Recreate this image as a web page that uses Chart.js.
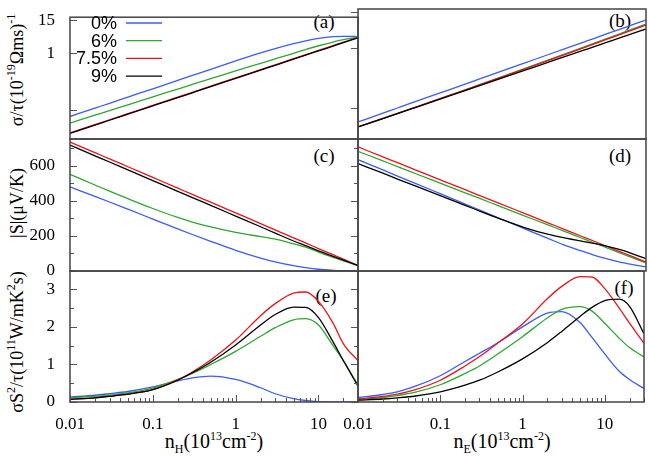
<!DOCTYPE html>
<html>
<head>
<meta charset="utf-8">
<script src="https://cdn.jsdelivr.net/npm/chart.js@4.4.1/dist/chart.umd.min.js"></script>
<style>
  body { margin:0; background:#fff; }
  #wrap { position:relative; width:648px; height:457px; overflow:hidden; background:#fff; }
  #wrap canvas { position:absolute; left:0; top:0; }
  .txt { position:absolute; font-family:"Liberation Serif","DejaVu Serif","DejaVu Sans",serif; color:#000; white-space:nowrap; line-height:1; transform:translate(-50%,-50%); }
  .ttl { font-size:18px; }
  .xt { font-size:20px; }
  .rot { transform:translate(-50%,-50%) rotate(-90deg); }
  .pl { font-size:19px; }
  sup, sub { font-size:12px; position:relative; vertical-align:0; line-height:0; }
  sup { top:-8px; }
  sub { top:5px; }
</style>
</head>
<body>
<div id="wrap">
  <div class="txt ttl rot" style="left:17px;top:70px">σ/τ(10<sup>-19</sup>Ωms)<sup>-1</sup></div>
  <div class="txt ttl rot" style="left:17px;top:203px">|S|(μV/K)</div>
  <div class="txt ttl rot" style="left:17px;top:342px">σS<sup>2</sup>/τ(10<sup>11</sup>W/mK<sup>2</sup>s)</div>
  <div class="txt xt" style="left:214px;top:441px">n<sub>H</sub>(10<sup>13</sup>cm<sup>-2</sup>)</div>
  <div class="txt xt" style="left:502px;top:441px">n<sub>E</sub>(10<sup>13</sup>cm<sup>-2</sup>)</div>
  <div class="txt pl" style="left:324px;top:21px">(a)</div>
  <div class="txt pl" style="left:620px;top:20px">(b)</div>
  <div class="txt pl" style="left:324px;top:155px">(c)</div>
  <div class="txt pl" style="left:620px;top:155px">(d)</div>
  <div class="txt pl" style="left:326px;top:295px">(e)</div>
  <div class="txt pl" style="left:624px;top:287px">(f)</div>
</div>
<script>
// ── Data ─────────────────────────────────────────────────
const nVals = [0.01,0.02,0.03,0.05,0.1,0.2,0.3,0.5,1,2,3,5,7,10,15,20,30];
const seriesLabels = ['0%','6%','7.5%','9%'];
const seriesColors = ['#3b5bf5','#2fa62f','#e8141a','#000000'];

// (a) sigma/tau vs n_H
const sigmaH0  = [0.00601,0.01183,0.01755,0.02897,0.0570,0.1130,0.1676,0.2767,0.5445,1.039,1.473,2.204,2.790,3.397,3.897,4.018,3.897];
const sigmaH6  = [0.00353,0.00668,0.00970,0.01554,0.02943,0.0557,0.0809,0.1295,0.2451,0.450,0.644,1.015,1.376,1.866,2.528,3.055,3.639];
const sigmaH75 = [0.00159,0.00311,0.00462,0.00757,0.0148,0.0289,0.0428,0.0703,0.137,0.269,0.398,0.653,0.904,1.276,1.889,2.495,3.60];
const sigmaH9  = [0.00153,0.00299,0.00444,0.00728,0.01422,0.0278,0.0412,0.0676,0.1321,0.2582,0.3828,0.628,0.869,1.227,1.816,2.399,3.556];
// (b) sigma/tau vs n_E
const sigmaE0  = [0.00353,0.00690,0.01023,0.01679,0.0328,0.0641,0.0951,0.156,0.305,0.596,0.883,1.449,2.004,2.831,4.19,5.53,8.20];
const sigmaE6  = [0.00242,0.00462,0.00676,0.01095,0.02121,0.04131,0.06119,0.1006,0.1984,0.3938,0.5898,0.9826,1.379,1.976,2.983,3.998,6.053];
const sigmaE75 = [0.00242,0.00461,0.00675,0.01092,0.02108,0.04088,0.06036,0.0988,0.1935,0.3808,0.5675,0.9386,1.3104,1.8672,2.800,3.733,5.610];
const sigmaE9  = [0.00242,0.00460,0.00671,0.01079,0.02056,0.0392,0.0571,0.0918,0.1750,0.3334,0.4864,0.7816,1.069,1.489,2.173,2.838,4.140];
// (c) |S| vs n_H
const seebH0  = [479,425,393,352,296,240,208,169,118,74,52,30,19,10,4,1.5,0];
const seebH6  = [551,490,455,412,356,305,279,251,220,196,182,155,136,108,77,57,30];
const seebH75 = [735,674,639,594,533,472,436,392,331,270,234,189,160,128,93,68,32];
const seebH9  = [717,656,621,576,515,454,418,374,313,252,216,171,144,115,83,62,31];
// (d) |S| vs n_E
const seebE0  = [634,576,541,498,439,380,346,302,243,184,150,114,91,70,49,38,23];
const seebE6  = [682,627,595,554,499,444,412,371,316,261,229,188,161,133,101,78,46];
const seebE75 = [707,650,617,575,518,462,428,387,330,273,240,198,171,141,108,85,51];
const seebE9  = [612,557,524,483,428,373,340,300,249,208,190,170,158,142,120,100,70];
// (e) sigma S^2/tau vs n_H
const pfH0  = [0.13,0.18,0.22,0.28,0.40,0.56,0.64,0.69,0.60,0.38,0.22,0.09,0.04,0.01,0,0,0];
const pfH6  = [0.11,0.15,0.18,0.24,0.37,0.60,0.76,1.00,1.35,1.75,1.98,2.19,2.22,2.05,1.50,1.10,0.45];
const pfH75 = [0.07,0.11,0.15,0.21,0.33,0.59,0.80,1.12,1.65,2.30,2.62,2.90,2.93,2.68,2.10,1.55,1.10];
const pfH9  = [0.07,0.11,0.15,0.21,0.33,0.58,0.78,1.06,1.52,2.05,2.33,2.53,2.52,2.25,1.60,1.10,0.42];
// (f) sigma S^2/tau vs n_E
const pfE0  = [0.12,0.20,0.27,0.42,0.70,1.08,1.30,1.58,2.00,2.37,2.41,2.12,1.72,1.28,0.82,0.60,0.36];
const pfE6  = [0.07,0.12,0.17,0.26,0.46,0.76,0.96,1.28,1.74,2.24,2.47,2.54,2.42,2.10,1.70,1.45,1.20];
const pfE75 = [0.08,0.15,0.21,0.33,0.58,0.96,1.21,1.57,2.08,2.75,3.08,3.34,3.33,3.02,2.50,2.10,1.56];
const pfE9  = [0.05,0.08,0.11,0.16,0.27,0.45,0.58,0.80,1.15,1.58,1.88,2.28,2.52,2.70,2.74,2.55,1.82];

// ── Ticks ────────────────────────────────────────────────
const xMajor = [0.01,0.1,1,10];
const xLabels = ['0.01','0.1','1','10'];
const xMinor = [0.02,0.03,0.04,0.05,0.06,0.07,0.08,0.09,0.2,0.3,0.4,0.5,0.6,0.7,0.8,0.9,2,3,4,5,6,7,8,9,20,30];
const sigmaMajor = [0.01,1,15];
const sigmaLabels = ['','1','15'];
const seebMajor = [0,200,400,600];
const seebLabels = ['0','200','400','600'];
const seebMinor = [100,300,500,700];
const pfMajor = [0,1,2,3];
const pfLabels = ['0','1','2','3'];
const pfMinor = [0.5,1.5,2.5];

// ── Layout ───────────────────────────────────────────────
const W = 648, H = 457;
const colX = [[70,358],[358,646]];
const rowY = [[9,139],[139,271],[271,402]];
const TICKFONT = '"Liberation Serif","DejaVu Serif","DejaVu Sans",serif';

const panels = [
  { id:'a', col:0, row:0, type:'logarithmic', min:0.00097, max:18.9, major:sigmaMajor, labels:sigmaLabels, minor:[], data:[sigmaH0,sigmaH6,sigmaH75,sigmaH9] },
  { id:'b', col:1, row:0, type:'logarithmic', min:0.00097, max:18.9, major:sigmaMajor, labels:sigmaLabels, minor:[], data:[sigmaE0,sigmaE6,sigmaE75,sigmaE9] },
  { id:'c', col:0, row:1, type:'linear', min:0, max:752, major:seebMajor, labels:seebLabels, minor:seebMinor, data:[seebH0,seebH6,seebH75,seebH9] },
  { id:'d', col:1, row:1, type:'linear', min:0, max:752, major:seebMajor, labels:seebLabels, minor:seebMinor, data:[seebE0,seebE6,seebE75,seebE9] },
  { id:'e', col:0, row:2, type:'linear', min:0, max:3.49, major:pfMajor, labels:pfLabels, minor:pfMinor, data:[pfH0,pfH6,pfH75,pfH9] },
  { id:'f', col:1, row:2, type:'linear', min:0, max:3.49, major:pfMajor, labels:pfLabels, minor:pfMinor, data:[pfE0,pfE6,pfE75,pfE9] },
];

function labelFor(values, labels, v) {
  const i = values.findIndex(t => Math.abs(t - v) <= Math.abs(t) * 1e-6 + 1e-9);
  return i < 0 ? '' : labels[i];
}
function isIn(values, v) {
  return values.some(t => Math.abs(t - v) <= Math.abs(t) * 1e-6 + 1e-9);
}

// ── Frame + inward ticks ─────────────────────────────────
const framePlugin = {
  id: 'frame',
  afterDatasetsDraw(chart, args, o) {
    const { ctx, chartArea: a, scales: { x, y } } = chart;
    ctx.save();
    ctx.strokeStyle = '#555';
    ctx.lineWidth = 1;
    ctx.beginPath();
    if (o.xTicks) {
      x.ticks.forEach(t => {
        const px = Math.round(x.getPixelForValue(t.value)) + 0.5;
        const len = isIn(xMajor, t.value) ? 7 : 4;
        ctx.moveTo(px, a.bottom); ctx.lineTo(px, a.bottom - len);
      });
    }
    y.ticks.forEach(t => {
      const py = Math.round(y.getPixelForValue(t.value)) + 0.5;
      const len = isIn(o.major, t.value) ? 7 : 4;
      ctx.moveTo(a.left, py); ctx.lineTo(a.left + o.dir * len, py);
    });
    ctx.stroke();
    ctx.strokeStyle = '#444';
    ctx.lineWidth = 1.5;
    ctx.strokeRect(a.left, a.top, a.right - a.left, a.bottom - a.top);
    ctx.restore();
  }
};

// ── Key in panel (a): text right-aligned, then line sample ─
const keyPlugin = {
  id: 'key',
  afterDraw(chart, args, o) {
    if (!o.show) return;
    const { ctx } = chart;
    ctx.save();
    ctx.font = '18px "Liberation Sans", Arial, sans-serif';
    ctx.textAlign = 'right';
    ctx.textBaseline = 'middle';
    chart.data.datasets.forEach((ds, i) => {
      const yy = 23 + i * 17.7;
      ctx.fillStyle = '#000';
      ctx.fillText(ds.label, 117, yy + 1);
      ctx.strokeStyle = ds.borderColor;
      ctx.lineWidth = 1.3;
      ctx.beginPath(); ctx.moveTo(126, yy); ctx.lineTo(162, yy); ctx.stroke();
    });
    ctx.restore();
  }
};

function makePanel(p) {
  const cv = document.createElement('canvas');
  cv.width = W; cv.height = H;
  document.getElementById('wrap').appendChild(cv);
  const [L, R] = colX[p.col];
  const [T, B] = rowY[p.row];
  const leftCol = p.col === 0, bottomRow = p.row === 2;
  const yTicks = p.major.concat(p.minor).sort((m, n) => m - n);
  const xTicks = xMajor.concat(xMinor).sort((m, n) => m - n);

  return new Chart(cv, {
    type: 'line',
    data: {
      datasets: p.data.map((d, i) => ({
        label: seriesLabels[i],
        data: nVals.map((x, k) => ({ x, y: d[k] })),
        borderColor: seriesColors[i],
        borderWidth: 1.3,
        pointRadius: 0,
        cubicInterpolationMode: 'monotone',
        fill: false,
        order: 3 - i
      }))
    },
    options: {
      responsive: false,
      animation: false,
      events: [],
      layout: { padding: { left: leftCol ? 0 : L, right: W - R, top: T, bottom: bottomRow ? 0 : H - B } },
      plugins: {
        legend: { display: false },
        tooltip: { enabled: false },
        frame: { xTicks: bottomRow, dir: leftCol ? 1 : -1, major: p.major },
        key: { show: p.id === 'a' }
      },
      scales: {
        x: {
          type: 'logarithmic', min: 0.01, max: 30,
          grid: { display: false }, border: { display: false },
          afterBuildTicks: s => { s.ticks = xTicks.map(v => ({ value: v })); },
          afterFit: s => { s.height = bottomRow ? H - B : 0; },
          ticks: {
            display: bottomRow, autoSkip: false, maxRotation: 0, padding: 4,
            color: '#000', font: { family: TICKFONT, size: 17 },
            callback: v => labelFor(xMajor, xLabels, v)
          }
        },
        y: {
          type: p.type, min: p.min, max: p.max,
          grid: { display: false }, border: { display: false },
          afterBuildTicks: s => { s.ticks = yTicks.map(v => ({ value: v })); },
          afterFit: s => { s.width = leftCol ? L : 0; },
          ticks: {
            display: leftCol, autoSkip: false, padding: 7,
            color: '#000', font: { family: TICKFONT, size: 17 },
            callback: v => labelFor(p.major, p.labels, v)
          }
        }
      }
    },
    plugins: [framePlugin, keyPlugin]
  });
}

panels.forEach(makePanel);
</script>
</body>
</html>
